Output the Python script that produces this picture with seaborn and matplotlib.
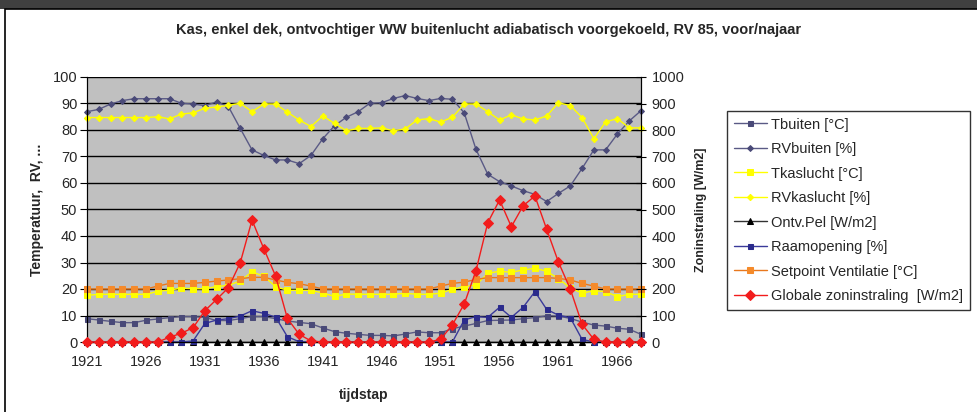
import matplotlib
matplotlib.use("Agg")
import matplotlib.pyplot as plt
import seaborn as sns
import numpy as np
from matplotlib.patches import Rectangle

# ---- data ----
steps = list(range(1921, 1969))

t_buiten = [8.8, 8.3, 7.8, 7.3, 7.3, 8.2, 8.7, 9.2, 9.6, 9.6, 9.3, 8.1, 8.1, 8.8, 9.6, 9.6,
            8.8, 7.9, 7.4, 6.9, 5.3, 3.9, 3.3, 2.9, 2.5, 2.5, 2.3, 3.0, 3.8, 3.5, 3.5, 5.0,
            6.0, 7.0, 8.1, 8.2, 8.3, 8.8, 9.2, 9.9, 9.8, 8.9, 7.5, 6.4, 6.0, 5.2, 4.8, 2.9]
rv_buiten = [86.9, 87.8, 89.8, 91.1, 91.8, 91.8, 91.8, 91.8, 90.1, 89.8, 89.2, 90.6, 88.8, 80.6,
             72.5, 70.4, 68.7, 68.7, 67.3, 70.4, 76.7, 81.6, 84.8, 86.9, 90.1, 90.3, 91.9, 93.0,
             91.9, 91.1, 91.9, 91.6, 86.5, 72.7, 63.3, 60.5, 58.9, 57.1, 55.7, 53.0, 56.1, 58.9,
             65.5, 72.5, 72.5, 78.5, 83.4, 87.3]
t_kas = [17.6, 18.0, 18.0, 18.0, 18.0, 18.0, 19.1, 19.6, 20.3, 20.1, 20.1, 20.9, 21.4, 23.0,
         26.5, 24.8, 20.9, 19.5, 19.5, 19.5, 18.5, 17.2, 18.1, 18.0, 18.0, 18.0, 18.0, 18.4,
         18.0, 18.0, 18.4, 19.9, 20.9, 21.5, 25.9, 26.7, 26.3, 27.2, 27.8, 26.7, 23.9, 20.4,
         18.4, 19.4, 19.0, 17.1, 18.0, 18.0]
rv_kas = [84.7, 84.7, 84.7, 84.7, 84.7, 84.7, 85.0, 84.2, 86.0, 86.5, 88.2, 88.7, 89.3, 90.1,
          86.9, 89.8, 89.8, 86.7, 83.8, 81.3, 85.3, 82.5, 79.7, 80.6, 80.6, 80.8, 79.7, 80.4,
          83.8, 84.3, 83.0, 84.8, 89.8, 89.8, 86.9, 83.8, 85.7, 84.2, 83.8, 85.3, 90.3, 89.2,
          84.7, 76.7, 83.1, 84.3, 80.8, 80.8]
ontv_pel = [0.0] * 48
raam = [0, 0, 0, 0, 0, 0, 0, 0, 0, 0.4, 7.0, 8.3, 8.8, 9.8, 11.8, 10.8, 9.4, 2.0, 0.1,
        0, 0, 0, 0, 0, 0, 0, 0, 0, 0, 0, 0, 0, 8.3, 9.6, 9.3, 13.1, 9.3, 13.1, 19.0, 12.3,
        10.1, 9.2, 1.0, 0, 0, 0, 0, 0]
setpoint = [20, 20, 20, 20, 20, 20, 21.1, 22.1, 22.1, 22.1, 22.5, 23.0, 23.4, 23.9, 24.4, 24.4,
            23.4, 22.5, 22.0, 21.1, 20, 20, 20, 20, 20, 20, 20, 20, 20, 20, 21.1, 22.1, 22.6,
            23.6, 24.3, 24.3, 24.3, 24.3, 24.3, 24.3, 24.0, 23.4, 22.1, 21.1, 20, 20, 20, 20]
zon = [0, 0, 0, 0, 0, 0, 0, 18, 33, 54, 118, 161, 205, 299, 460, 352, 249, 89, 29, 4,
       0, 0, 0, 0, 0, 0, 0, 0, 0, 0, 10, 65, 143, 269, 450, 536, 435, 514, 551, 425, 301,
       200, 67, 10, 0, 0, 0, 0]

sns.set_style("white")
plt.rcParams['font.family'] = ['Liberation Sans', 'DejaVu Sans']

fig = plt.figure(figsize=(9.78, 4.12), dpi=100)
ax = fig.add_axes([87/978, 1-342/412, (641-87)/978, (342-77)/412])
ax.set_facecolor('#C0C0C0')
ax2 = ax.twinx()

# series on the left axis: (label, values, marker, size, line color, marker color)
left_series = [
    ('Tbuiten [°C]', t_buiten, 's', 3.6, '#5A5A85', '#4A4A78'),
    ('RVbuiten [%]', rv_buiten, 'D', 3.0, '#5A5A85', '#4A4A78'),
    ('Tkaslucht [°C]', t_kas, 's', 3.8, '#FFFF00', '#FFFF00'),
    ('RVkaslucht [%]', rv_kas, 'D', 3.2, '#FFFF00', '#FFFF00'),
    ('Ontv.Pel [W/m2]', ontv_pel, '^', 4.2, '#333333', '#000000'),
    ('Raamopening [%]', raam, 's', 3.6, '#3A3A9A', '#2B2B8C'),
    ('Setpoint Ventilatie [°C]', setpoint, 's', 3.8, '#E8781E', '#F58A2A'),
]
for label, vals, mk, ms, lc, mc in left_series:
    sns.lineplot(x=steps, y=vals, ax=ax, color=lc, marker=mk, markersize=ms,
                 markerfacecolor=mc, markeredgecolor=mc, linewidth=1.0,
                 label=label, clip_on=False, zorder=3)

sns.lineplot(x=steps, y=zon, ax=ax2, color='#F21C1C', marker='D', markersize=5,
             markerfacecolor='#F21C1C', markeredgecolor='#F21C1C', linewidth=1.0,
             label='Globale zoninstraling  [W/m2]', clip_on=False, zorder=4)

ax.set_xlim(1921, 1968)
ax.set_ylim(0, 100)
ax2.set_ylim(0, 1000)
ax.set_xticks(list(range(1921, 1967, 5)))
ax.set_yticks(range(0, 101, 10))
ax2.set_yticks(range(0, 1001, 100))
ax.yaxis.grid(True, color='black', linewidth=1.0)
ax.set_axisbelow(True)

for a in (ax, ax2):
    a.spines['top'].set_visible(False)
    a.spines['left'].set_color('black')
    a.spines['right'].set_color('black')
    a.spines['bottom'].set_color('black')

ax.tick_params(axis='y', direction='out', length=5, color='black', labelsize=10.5, pad=2)
ax.tick_params(axis='x', direction='inout', length=6, color='black', labelsize=10.5, pad=6)
ax2.tick_params(axis='y', direction='inout', length=7, color='black', labelsize=10.5, pad=4)

ax.set_xlabel('tijdstap', fontsize=10, fontweight='bold', labelpad=14)
ax.set_ylabel('Temperatuur,  RV, ...', fontsize=10, fontweight='bold', labelpad=6)
ax2.set_ylabel('Zoninstraling [W/m2]', fontsize=9, fontweight='bold', labelpad=8)

# combined legend
h1, l1 = ax.get_legend_handles_labels()
h2, l2 = ax2.get_legend_handles_labels()
ax.get_legend().remove()
ax2.get_legend().remove()
leg = fig.legend(h1 + h2, l1 + l2, loc='upper left', bbox_to_anchor=(727/978, 1-111/412),
                 fontsize=10.5, frameon=True, fancybox=False, edgecolor='black',
                 handlelength=2.3, labelspacing=0.72, borderpad=0.45, handletextpad=0.3,
                 borderaxespad=0)
leg.get_frame().set_linewidth(1.0)

fig.suptitle('Kas, enkel dek, ontvochtiger WW buitenlucht adiabatisch voorgekoeld, RV 85, voor/najaar',
             fontsize=10.5, fontweight='bold', y=1-30/412, va='center')

# chart frame like the reference
fig.add_artist(Rectangle((0, 1-9/412), 1, 9/412, transform=fig.transFigure,
                         facecolor='#404040', edgecolor='none'))
fig.add_artist(Rectangle((5/978, -0.05), 1.2, 1.05-9/412, transform=fig.transFigure,
                         fill=False, edgecolor='black', linewidth=1.2))

fig.savefig('out.png', dpi=100)
